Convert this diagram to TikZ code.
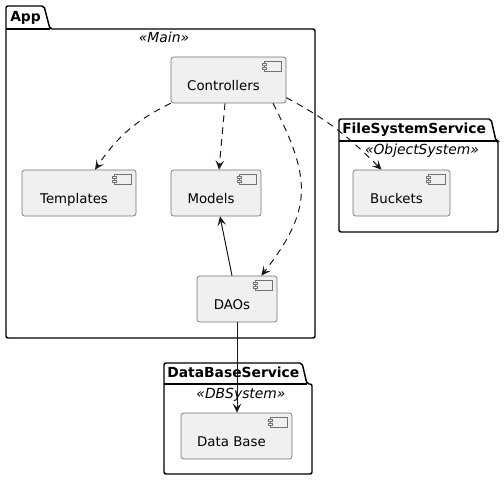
\documentclass[tikz,border=0pt]{standalone}
\usepackage{fontspec}
\setmainfont{DejaVu Sans}
\usetikzlibrary{arrows.meta}

\begin{document}
\begin{tikzpicture}[x=0.75pt, y=-0.75pt,
    comp/.style={rectangle, draw=black!55, line width=0.5pt, fill=black!6, rounded corners=2pt,
        minimum height=34.5pt, inner sep=0pt, text height=1.6em, text depth=0pt,
        font=\fontsize{10}{12}\selectfont, execute at end node={\hspace{7.5pt}}},
    pkg/.style={draw=black, line width=1.1pt, rounded corners=1.5pt},
    pkgname/.style={anchor=base west, inner sep=0pt, font=\fontsize{10.4}{12}\selectfont\bfseries},
    stereo/.style={anchor=base, inner sep=0pt, font=\fontsize{10.4}{12}\selectfont\itshape},
    dep/.style={draw=black!90, line width=0.75pt, dash pattern=on 5pt off 4pt,
        -{Stealth[length=7pt, width=6.5pt, inset=3pt]}},
    use/.style={draw=black!90, line width=0.75pt, -{Stealth[length=7pt, width=6.5pt, inset=3pt]}},
    icon/.pic={
        \draw[black!55, line width=0.5pt] (-22,5) rectangle (-5,15);
        \draw[black!55, line width=0.5pt, fill=black!6] (-24,7) rectangle (-20,9);
        \draw[black!55, line width=0.5pt, fill=black!6] (-24,11) rectangle (-20,13);
    }]
        \useasboundingbox (0,0) rectangle (504,481);

        % packages
        \draw[pkg] (6,338) -- (6,6) -- (44,6) -- (50,29) -- (315,29) -- (315,338) -- cycle;
        \draw[pkg] (6,29) -- (50,29);
        \draw[pkg] (339,232) -- (339,119) -- (491,119) -- (496,141) -- (498,141) -- (498,232) -- cycle;
        \draw[pkg] (339,141) -- (496,141);
        \draw[pkg] (164,474) -- (164,363) -- (302,363) -- (307,384) -- (312,384) -- (312,474) -- cycle;
        \draw[pkg] (164,384) -- (307,384);

        \node[pkgname] (appname) at (10,22) {App};
        \node[pkgname] (fsname) at (342,134) {FileSystemService};
        \node[pkgname] (dbsname) at (167,378) {DataBaseService};
        \node[stereo] (appst) at (164,43) {«Main»};
        \node[stereo] (fsst) at (422,155) {«ObjectSystem»};
        \node[stereo] (dbsst) at (241,398) {«DBSystem»};

        % components
        \node[comp, minimum width=86.25pt] (ctrl) at (228.5, 80) {Controllers};
        \node[comp, minimum width=85.5pt] (tmpl) at (79, 193) {Templates};
        \node[comp, minimum width=67.5pt] (mdl) at (216, 193) {Models};
        \node[comp, minimum width=60pt] (daos) at (237, 299) {DAOs};
        \node[comp, minimum width=72.75pt] (bkt) at (401.5, 193) {Buckets};
        \node[comp, minimum width=83.25pt] (db) at (236.5, 436) {Data Base};

        \foreach \n in {ctrl, tmpl, mdl, daos, bkt, db}
            \pic at (\n.north east) {icon};

        % dependencies
        \draw[dep] (ctrl.south west) to[out=206, in=56] ([xshift=12pt]tmpl.north);
        \draw[dep] ([xshift=-2.6pt]ctrl.south) -- ([xshift=2.25pt]mdl.north);
        \draw[dep] ([xshift=-10pt]ctrl.south east) to[out=-63, in=52, looseness=1.25] ([xshift=-12pt]daos.north east);
        \draw[dep] (ctrl.-17) to[out=-28, in=135] ([xshift=-15pt]bkt.north);
        \draw[use] ([xshift=-3.75pt]daos.north) -- ([xshift=3pt]mdl.south);
        \draw[use] (daos.south) -- (daos.south |- db.north);

\end{tikzpicture}
\end{document}
